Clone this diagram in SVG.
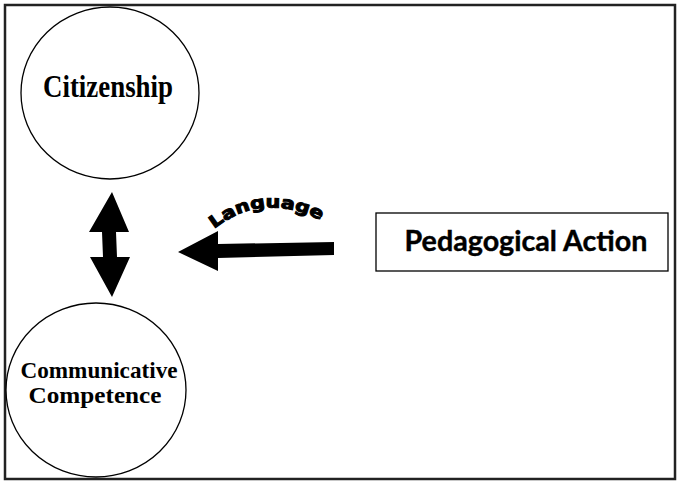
<svg xmlns="http://www.w3.org/2000/svg" width="677" height="481" viewBox="0 0 677 481">
<style>
.node{fill:#fff;stroke:#000;stroke-width:1.3}
.serif{font-family:"Liberation Serif","Times New Roman",serif;fill:#000}
.arrow{fill:#000;stroke:none}
</style>
<defs>
<path id="arc" d="M 214,229 Q 268,186 336,229"/>
</defs>
<rect x="0" y="0" width="677" height="481" fill="#fff"/>
<rect x="5" y="5" width="670" height="474" fill="#fff" stroke="#222" stroke-width="2.5"/>
<g id="citizenship">
<ellipse class="node" cx="110" cy="93" rx="89" ry="86"/>
<text class="serif" x="108" y="97" font-size="31" font-weight="bold" text-anchor="middle" textLength="130" lengthAdjust="spacingAndGlyphs">Citizenship</text>
</g>
<g id="communicative-competence">
<ellipse class="node" cx="96" cy="390" rx="90" ry="87"/>
<text class="serif" x="99" y="378" font-size="23" font-weight="bold" text-anchor="middle" textLength="157" lengthAdjust="spacingAndGlyphs">Communicative</text>
<text class="serif" x="95" y="403" font-size="23" font-weight="bold" text-anchor="middle" textLength="133" lengthAdjust="spacingAndGlyphs">Competence</text>
</g>
<g id="pedagogical-action">
<rect class="node" x="376" y="213" width="292" height="58"/>
<text x="526" y="251" font-family="Lato,'Liberation Sans',sans-serif" font-size="28" font-weight="bold" text-anchor="middle" textLength="243" lengthAdjust="spacingAndGlyphs" fill="#000" stroke="#000" stroke-width="0.4">Pedagogical Action</text>
</g>
<g id="connectors">
<polygon class="arrow" points="112,192 129,232 116,232 117,257 130,257 112,297 90,257 103,257 102,232 89,232"/>
<polygon class="arrow" points="178,252 218,231 218,244 334,242 334,255 218,258 218,271"/>
<text font-family="'DejaVu Sans','Liberation Sans',sans-serif" font-size="17" font-weight="bold" fill="#000" stroke="#000" stroke-width="1"><textPath href="#arc" textLength="114" lengthAdjust="spacingAndGlyphs">Language</textPath></text>
</g>
</svg>
